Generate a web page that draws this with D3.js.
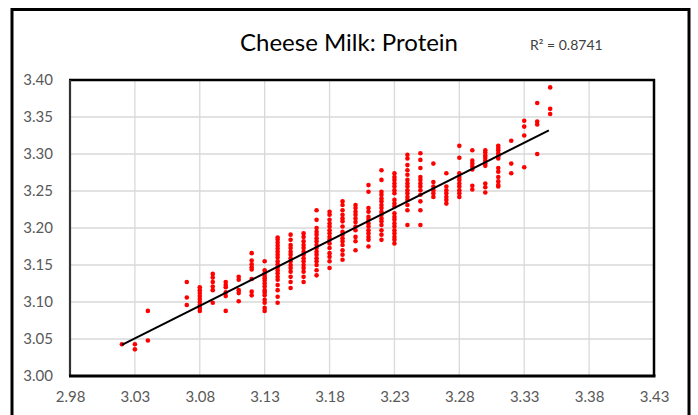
<!DOCTYPE html>
<html><head><meta charset="utf-8">
<script src="https://cdn.jsdelivr.net/npm/d3@7/dist/d3.min.js"></script>
<style>html,body{margin:0;padding:0;background:#fff;}svg{display:block;}</style>
</head><body>
<svg id="c" width="698" height="415"></svg>
<script>
// ---- data ----
const title = "Cheese Milk: Protein";
const rSquaredLabel = "R² = 0.8741";
const xTicks = [2.98, 3.03, 3.08, 3.13, 3.18, 3.23, 3.28, 3.33, 3.38, 3.43];
const yTicks = [3.00, 3.05, 3.10, 3.15, 3.20, 3.25, 3.30, 3.35, 3.40];
// cheese milk protein (x) levels and the measured values (y) at each level
const xLevels = [3.02, 3.03, 3.04, 3.07, 3.08, 3.09, 3.10, 3.11, 3.12, 3.13, 3.14, 3.15, 3.16, 3.17, 3.18, 3.19, 3.20, 3.21, 3.22, 3.23, 3.24, 3.25, 3.26, 3.27, 3.28, 3.29, 3.30, 3.31, 3.32, 3.33, 3.34, 3.35];
const yValues = [
  [3.043],
  [3.043, 3.036],
  [3.088, 3.048],
  [3.127, 3.106, 3.096],
  [3.120, 3.116, 3.112, 3.108, 3.104, 3.100, 3.096, 3.092, 3.088],
  [3.138, 3.133, 3.127, 3.121, 3.116, 3.099],
  [3.127, 3.123, 3.120, 3.113, 3.108, 3.088],
  [3.134, 3.130, 3.116, 3.112, 3.101],
  [3.166, 3.156, 3.151, 3.147, 3.144, 3.131, 3.114, 3.109],
  [3.155, 3.143, 3.139, 3.135, 3.132, 3.129, 3.125, 3.121, 3.116, 3.113, 3.109, 3.103, 3.099, 3.092, 3.088],
  [3.187, 3.184, 3.180, 3.176, 3.172, 3.168, 3.164, 3.160, 3.155, 3.151, 3.147, 3.143, 3.139, 3.134, 3.130, 3.123, 3.116, 3.107, 3.099],
  [3.191, 3.184, 3.177, 3.173, 3.168, 3.164, 3.159, 3.155, 3.150, 3.146, 3.141, 3.134, 3.127, 3.119],
  [3.193, 3.188, 3.182, 3.177, 3.173, 3.168, 3.164, 3.159, 3.155, 3.150, 3.146, 3.141, 3.134, 3.127],
  [3.224, 3.211, 3.200, 3.195, 3.191, 3.186, 3.182, 3.177, 3.173, 3.168, 3.164, 3.159, 3.155, 3.150, 3.143, 3.136],
  [3.222, 3.218, 3.211, 3.206, 3.202, 3.197, 3.193, 3.188, 3.184, 3.179, 3.173, 3.166, 3.161, 3.155, 3.146],
  [3.236, 3.231, 3.224, 3.218, 3.213, 3.209, 3.202, 3.195, 3.191, 3.186, 3.182, 3.177, 3.170, 3.164, 3.157],
  [3.231, 3.227, 3.222, 3.218, 3.213, 3.208, 3.202, 3.197, 3.188, 3.182, 3.170],
  [3.258, 3.249, 3.227, 3.222, 3.215, 3.211, 3.206, 3.202, 3.197, 3.193, 3.188, 3.184, 3.175],
  [3.278, 3.265, 3.249, 3.245, 3.240, 3.236, 3.231, 3.227, 3.222, 3.218, 3.213, 3.209, 3.204, 3.197, 3.191, 3.184],
  [3.274, 3.269, 3.265, 3.260, 3.256, 3.251, 3.247, 3.238, 3.233, 3.229, 3.220, 3.215, 3.211, 3.206, 3.202, 3.197, 3.193, 3.188, 3.184, 3.179],
  [3.299, 3.294, 3.285, 3.278, 3.272, 3.265, 3.260, 3.256, 3.251, 3.247, 3.242, 3.238, 3.231, 3.224, 3.204],
  [3.301, 3.292, 3.281, 3.269, 3.265, 3.260, 3.256, 3.251, 3.245, 3.236, 3.224, 3.204],
  [3.287, 3.262, 3.256, 3.251, 3.247, 3.242],
  [3.274, 3.256, 3.251, 3.247, 3.242, 3.238, 3.233],
  [3.311, 3.295, 3.274, 3.269, 3.265, 3.260, 3.256, 3.251, 3.247, 3.242],
  [3.305, 3.291, 3.287, 3.283, 3.279, 3.257, 3.252],
  [3.305, 3.302, 3.298, 3.295, 3.291, 3.287, 3.284, 3.260, 3.255, 3.248],
  [3.311, 3.308, 3.305, 3.301, 3.297, 3.294, 3.281, 3.276, 3.269, 3.263, 3.258, 3.256],
  [3.318, 3.287, 3.274],
  [3.345, 3.337, 3.325, 3.282],
  [3.369, 3.344, 3.340, 3.300],
  [3.390, 3.361, 3.354]
];
// linear trendline end points
const trendX = [3.02, 3.349];
const trendY = [3.042, 3.332];

// ---- drawing ----
const svg = d3.select("#c");
const L = 70, R = 654, T = 80, B = 376;
const x = d3.scaleLinear().domain([2.98, 3.43]).range([L, R]);
const y = d3.scaleLinear().domain([3.00, 3.40]).range([B, T]);
const font = "Lato, 'Open Sans', sans-serif";

// outer frame
svg.append("rect").attr("x", 12).attr("y", 9.5).attr("width", 677).attr("height", 420)
  .attr("fill", "#fff").attr("stroke", "#000").attr("stroke-width", 3);

// gridlines
svg.append("g").selectAll("line").data(xTicks).join("line")
  .attr("x1", d => x(d)).attr("x2", d => x(d)).attr("y1", T).attr("y2", B)
  .attr("stroke", "#d9d9d9").attr("stroke-width", 1.3);
svg.append("g").selectAll("line").data(yTicks).join("line")
  .attr("x1", L).attr("x2", R).attr("y1", d => y(d)).attr("y2", d => y(d))
  .attr("stroke", "#d9d9d9").attr("stroke-width", 1.3);

// axes labels
const xAxis = d3.axisBottom(x).tickValues(xTicks).tickFormat(d3.format(".2f")).tickSize(0).tickPadding(15);
const gx = svg.append("g").attr("transform", `translate(0,${B})`).call(xAxis);
gx.select(".domain").remove();
gx.selectAll("text").attr("fill", "#595959").style("font-family", font).style("font-size", "15px");
const yAxis = d3.axisLeft(y).tickValues(yTicks).tickFormat(d3.format(".2f")).tickSize(0).tickPadding(17);
const gy = svg.append("g").attr("transform", `translate(${L},0)`).call(yAxis);
gy.select(".domain").remove();
gy.selectAll("text").attr("fill", "#595959").style("font-family", font).style("font-size", "15px");

// plot border
svg.append("line").attr("x1", L - 1).attr("x2", R + 1).attr("y1", T).attr("y2", T).attr("stroke", "#000").attr("stroke-width", 2.5);
svg.append("line").attr("x1", L).attr("x2", L).attr("y1", T).attr("y2", B).attr("stroke", "#333").attr("stroke-width", 2.2);
svg.append("line").attr("x1", R).attr("x2", R).attr("y1", T - 1).attr("y2", B).attr("stroke", "#000").attr("stroke-width", 2.5);
svg.append("line").attr("x1", L - 1).attr("x2", R + 1.5).attr("y1", B).attr("y2", B).attr("stroke", "#000").attr("stroke-width", 3);

// points
const pts = xLevels.flatMap((xv, i) => yValues[i].map(yv => ({x: xv, y: yv})));
svg.append("g").selectAll("circle").data(pts).join("circle")
  .attr("cx", d => x(d.x)).attr("cy", d => y(d.y)).attr("r", 2.3)
  .attr("fill", "#ff0000");

// trendline
svg.append("line")
  .attr("x1", x(trendX[0])).attr("y1", y(trendY[0]))
  .attr("x2", x(trendX[1])).attr("y2", y(trendY[1]))
  .attr("stroke", "#000").attr("stroke-width", 2);

// title & R²
svg.append("text").attr("x", 349).attr("y", 51).attr("text-anchor", "middle")
  .style("font-family", font).style("font-size", "24px").attr("fill", "#000").text(title);
svg.append("text").attr("x", 530).attr("y", 50)
  .style("font-family", font).style("font-size", "14px").attr("fill", "#404040").text(rSquaredLabel);
</script>
</body></html>
